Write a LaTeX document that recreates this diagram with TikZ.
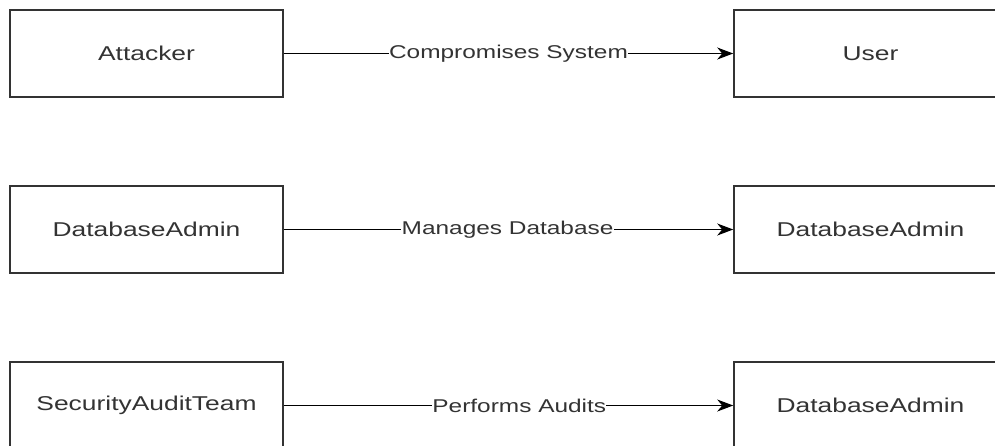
\documentclass[tikz,border=0pt]{standalone}
\usepackage{fontspec}
\usetikzlibrary{arrows.meta}
\newfontfamily\boxfont[FakeStretch=1.32]{Liberation Sans}
\definecolor{ink}{HTML}{333333}
\tikzset{
  entity/.style={draw=ink, line width=1.6pt, fill=white, minimum width=273pt,
    minimum height=87pt, inner sep=0pt, font=\boxfont\fontsize{20}{24}\selectfont,
    text=ink},
  relation/.style={draw=black, line width=1.1pt, -{Stealth[length=16pt,width=12pt,inset=5pt]}},
  rellabel/.style={fill=white, inner sep=0.3pt, text=ink,
    font=\boxfont\fontsize{18.5}{22}\selectfont}
}
\begin{document}
\begin{tikzpicture}[x=1pt,y=-1pt]
  \useasboundingbox (0,0) rectangle (995,445);
  \clip (0,0) rectangle (995,445);
  \fill[white] (0,0) rectangle (995,445);

  % left column
  \node[entity] (attacker) at (146.5,53.5) {Attacker};
  \node[entity] (dbadminL) at (146.5,229.5) {DatabaseAdmin};
  \node[entity] (audit)    at (146.5,405.5) {SecurityAuditTeam};

  % right column
  \node[entity] (user)     at (870.5,53.5) {User};
  \node[entity] (dbadminR) at (870.5,229.5) {DatabaseAdmin};
  \node[entity] (dbadminB) at (870.5,405.5) {DatabaseAdmin};

  % relations
  \draw[relation] (attacker) -- node[rellabel, pos=0.5] {Compromises System} (user);
  \draw[relation] (dbadminL) -- node[rellabel, pos=0.498] {Manages Database} (dbadminR);
  \draw[relation] (audit)    -- node[rellabel, pos=0.524] {Performs Audits} (dbadminB);
\end{tikzpicture}
\end{document}
